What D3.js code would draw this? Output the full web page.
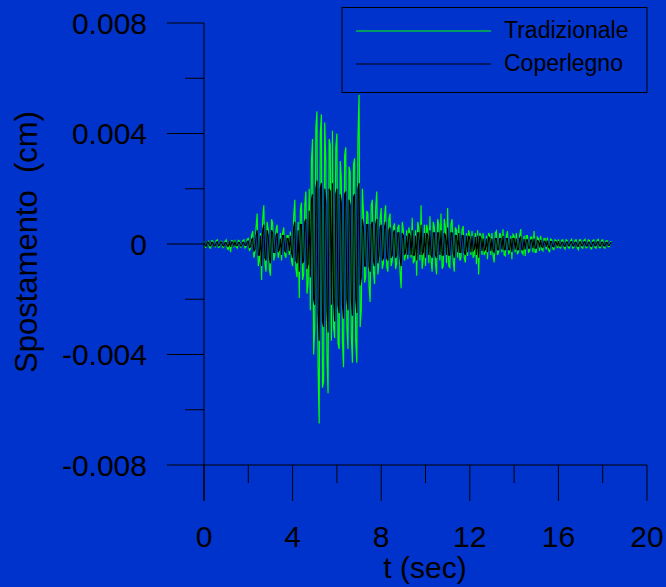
<!DOCTYPE html>
<html><head><meta charset="utf-8">
<script src="https://cdn.jsdelivr.net/npm/d3@7"></script>
<style>
html,body{margin:0;padding:0;background:#0033cc;}
svg{display:block;font-family:"Liberation Sans",Arial,sans-serif;}
</style></head>
<body>
<svg id="chart" width="666" height="587"></svg>
<script>
// time sampling (s) of the traces
const timeStep = 0.05;
// displacement values in units of 1e-4 cm
const tradizionale = [
 1,-1.2,-1,0.8,1,-1.3,-1.5,1.2,1,-0.8,-1,1.2,1.5,-1.2,-1,1,1,-1.3,-1,0.9,1.5,-1.6,-2,1,-3,1.2,1,-1.2,1.5,-1,-1.5,1.3,1,-1.1,-1,1.2,1.5,-1.4,-1,1.8,
 2,-2.5,-1.5,3,4.7,-5,-3,6,11,-8,-6,4,-13,9,14,-7,-10,8,5,-9,
 -11.5,9,7.5,-6,-4,5,7,-5,-3,4,-6,4,6,-4,-5,3,3,-4,4.5,-6,
 -8,10,16,-9,-12,8,-19.5,12,15,-13,-11,14,19,-18,-14,20,-24,30,38,-40,
 -30,42,48,-45,-65,40,47,-52,-50,44,30,-40,-54,38,36,-35,41,-30,-34,35,
 40,-36,-38,30,24,-35,-44.6,32,35,-30,-38,28,26,-33,-43,29,31,-35,-43,38,
 54,-30,-24,20,11,-14,-12,12,11,-15,-21,14,16,-10,-14.5,13,19,-11,-6,9,
 13,-9,-7,10,14,-8,-10,9,11,-8,-6,6,7.5,-9,-7,6,7,-10,-16,8,
 5,-6,-4,5,-5.5,6,4,-5,9.5,-7,-6,5,-11.5,8,6,-6,14,-9,-5,7,
 -8,7,5,-7,10,-6,-10,8,6,-7,-11,9,7,-6,11,-9,-8,9,6,-7,
 13,-8,-8.5,7,9,-6,-10,6,5,-5,7,-6,-5,5,6.5,-5,-6.7,4,-4.3,5,
 3,-4,4.7,-5,-4,4,-7.3,5,-11,4,3,-4,4,-4,-3,3,-5.5,4,3,-4,
 4,-4,-6.7,4,4.7,-4,-3,4,3,-3,5.3,-4,-4.3,3,4.7,-3.5,-3,3,-5.5,3.5,
 3,-3,4,-3.5,-3,3,5.4,-3,-3.7,3,-4.3,3,3,-3,-2.5,2.5,2.5,-3,4.7,-3,
 -3,2.5,2,-2.5,3,-2,-2.5,2,2,-2,2.3,-2,-3,1.8,1.5,-1.8,-2,1.5,1.2,-1.5,
 1.7,-1.3,-1.5,1.4,1.5,-1.2,-1.8,1.5,1.2,-1.3,-1.5,1.2,1.7,-1.5,-1.2,1.4,1.5,-1.3,-2,1.5,
 1.5,-1.2,-1.5,1.3,1.7,-1.4,-1.2,1.5,1.3,-1.5,-1.8,1.3,1.5,-1.2,-1.5,1.4,1.7,-1.3,-1.3,1.2,
 1.5,-1.2,-1.5,1.1,1.2,-1,-1,0.8,0.8
];
const coperlegno = [
 0.5,-0.6,-0.8,0.7,0.6,-0.5,-0.7,0.6,0.5,-0.7,-0.6,0.5,0.8,-0.6,-0.5,0.7,0.6,-0.6,-0.7,0.5,0.5,-0.7,-0.8,0.6,-1,0.7,0.6,-0.6,0.7,-0.5,-0.6,0.6,0.5,-0.7,-0.7,0.6,0.6,-0.5,-0.5,0.8,
 1,-1.2,-1,1.5,2,-2.5,-2,3,5,-4,-4,3,-8,5,7,-5,-6,5,3,-5,
 -7,5,4,-3,-3,3,4,-3,-2,2,-4,3,3,-2.5,-3,2,2,-2.5,3,-3,
 -5,6,8,-6,-7,5,-10,7,7,-7,-6,8,9,-9,-7,12,-12,16,18,-20,
 -22,20,23,-25,-35,20,22,-28,-30,20,15,-24,-32,20,19,-22,22,-20,-28,18,
 20,-22,-25,18,15,-22,-27,18,19,-20,-24,16,14,-20,-26,17,18,-20,-25,20,
 22,-15,-12,9,6,-8,-8,7,7,-8,-10,7,8,-6,-8,7,9,-7,-4,6,
 7,-6,-5,6,8,-5,-6,5,6,-5,-4,4,5,-5,-4,4,4,-5,-8,4,
 3,-4,-3,3,-4,4,3,-4,5,-4,-4,3,-6,4,4,-4,7,-4,-3,4,
 -5,4,3,-4,5,-4,-5,4,4,-4,-5,4,4,-4,5,-4,-4,4,3,-4,
 6,-4,-4,4,4,-3,-5,3,3,-3,4,-3,-3,3,3,-3,-4,3,-3,3,
 2,-3,3,-2.5,-2,2.5,-4,3,-5,3,2,-2.5,2,-2.5,-2,2,-3,2.5,2,-2.5,
 2,-2.5,-3,2,2,-2,-2,2,2,-2,3,-2,-2,2,2,-2,-2,2,-3,2,
 2,-2,2,-2,-2,2,2.5,-2,-2,1.8,-2,1.5,1.5,-1.5,-1.5,1.4,1.5,-1.5,2,-1.5,
 -1.5,1.2,1,-1.2,1.5,-1,-1.2,1,1,-1,1.2,-1,-1.5,0.9,0.8,-0.9,-1,0.8,0.7,-0.8,
 1,-0.7,-0.7,0.6,0.6,-0.7,-0.8,0.6,0.7,-0.6,-0.6,0.7,0.8,-0.6,-0.7,0.6,0.6,-0.7,-0.8,0.6,
 0.7,-0.6,-0.6,0.7,0.8,-0.6,-0.7,0.6,0.6,-0.7,-0.8,0.6,0.7,-0.6,-0.6,0.7,0.8,-0.6,-0.7,0.6,
 0.6,-0.6,-0.7,0.5,0.6,-0.5,-0.5,0.4,0.4
];
const seriesNames = ["Tradizionale","Coperlegno"];
const seriesColors = ["#00ff00","#000000"];
const xTicks = [0,4,8,12,16,20];
const xMinorTicks = [2,6,10,14,18];
const yTicks = [0.008,0.004,0,-0.004,-0.008];
const yTickLabels = ["0.008","0.004","0","-0.004","-0.008"];
const yMinorTicks = [0.006,0.002,-0.002,-0.006];

const svg = d3.select("#chart");
svg.append("rect").attr("width",666).attr("height",587).attr("fill","#0033cc");

const x = d3.scaleLinear().domain([0,20]).range([204,647]);
const y = d3.scaleLinear().domain([-0.008,0.008]).range([465,23]);

function toPoints(arr){ return arr.map((v,i)=>[i*timeStep, v*1e-4]); }
const line = d3.line().x(d=>x(d[0])).y(d=>y(d[1]));

const data = [tradizionale, coperlegno];
data.forEach((arr,k)=>{
  svg.append("path").datum(toPoints(arr))
    .attr("d",line).attr("fill","none")
    .attr("stroke",seriesColors[k]).attr("stroke-width",1.2)
    .attr("stroke-linejoin","miter");
});

const axisCol = "#000000";
// y axis
const yAxisG = svg.append("g").attr("transform","translate(204,0)");
yAxisG.append("line").attr("x1",0).attr("x2",0).attr("y1",y(0.008)).attr("y2",501).attr("stroke",axisCol);
yAxisG.selectAll("line.maj").data(yTicks).enter().append("line")
  .attr("x1",-37).attr("x2",0).attr("y1",d=>y(d)).attr("y2",d=>y(d)).attr("stroke",axisCol);
yAxisG.selectAll("line.min").data(yMinorTicks).enter().append("line")
  .attr("class","min").attr("x1",-19).attr("x2",0).attr("y1",d=>y(d)).attr("y2",d=>y(d)).attr("stroke",axisCol);
yAxisG.selectAll("text").data(yTicks).enter().append("text")
  .attr("x",-57).attr("y",d=>y(d)).attr("dy","0.36em").attr("text-anchor","end")
  .attr("font-size",30).attr("fill","#000").text((d,i)=>yTickLabels[i]);

// x axis
const xAxisG = svg.append("g").attr("transform","translate(0,465)");
xAxisG.append("line").attr("x1",x(0)).attr("x2",x(20)).attr("y1",0).attr("y2",0).attr("stroke",axisCol);
xAxisG.selectAll("line.maj").data(xTicks).enter().append("line")
  .attr("x1",d=>x(d)).attr("x2",d=>x(d)).attr("y1",0).attr("y2",36).attr("stroke",axisCol);
xAxisG.selectAll("line.min").data(xMinorTicks).enter().append("line")
  .attr("class","min").attr("x1",d=>x(d)).attr("x2",d=>x(d)).attr("y1",0).attr("y2",18).attr("stroke",axisCol);
xAxisG.selectAll("text").data(xTicks).enter().append("text")
  .attr("x",d=>x(d)).attr("y",82).attr("text-anchor","middle")
  .attr("font-size",30).attr("fill","#000").text(d=>d);

svg.append("text").attr("x",425).attr("y",578).attr("text-anchor","middle")
  .attr("font-size",30).attr("fill","#000").text("t (sec)");
svg.append("text").attr("transform","translate(37,242) rotate(-90)")
  .attr("text-anchor","middle").attr("font-size",31).attr("fill","#000")
  .style("white-space","pre").text("Spostamento  (cm)");

// legend
const lg = svg.append("g");
lg.append("rect").attr("x",342).attr("y",7.5).attr("width",305).attr("height",85)
  .attr("fill","#0033cc").attr("stroke","#000").attr("stroke-width",1);
seriesNames.forEach((n,i)=>{
  const yy = 31 + i*33;
  lg.append("line").attr("x1",356).attr("x2",491).attr("y1",yy).attr("y2",yy)
    .attr("stroke",seriesColors[i]).attr("stroke-width",1);
  lg.append("text").attr("x",504).attr("y",yy+7).attr("font-size",23).attr("fill","#000").text(n);
});
</script>
</body></html>
